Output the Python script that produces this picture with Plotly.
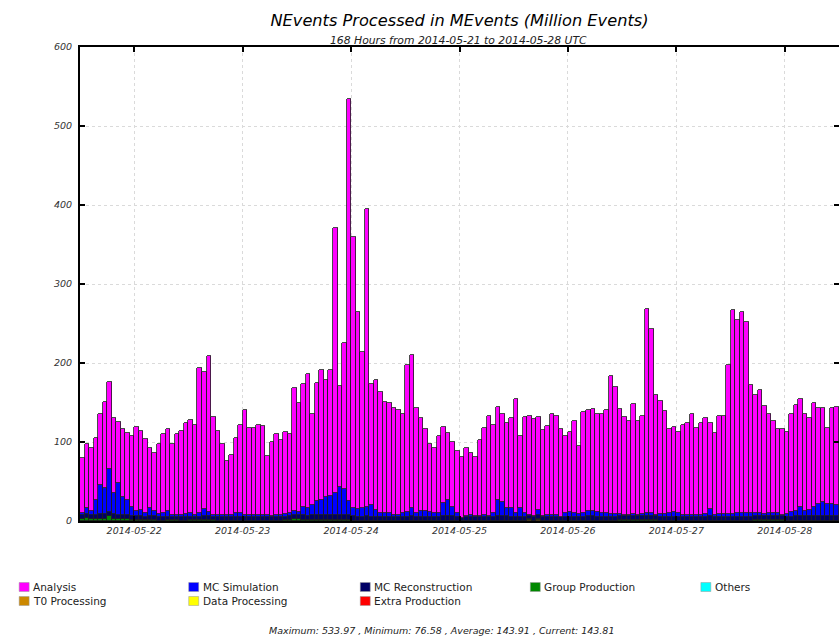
import pandas as pd
import plotly.graph_objects as go

# ---- data: hourly processed events (million events), 168 hours ----
start = "2014-05-21 12:00"
hours = pd.date_range(start, periods=168, freq="h") + pd.Timedelta(minutes=30)

total = [
    80, 97, 92, 105, 135, 151, 176, 130, 125, 116,
    111, 107, 119, 114, 104, 92, 86, 97, 110, 116,
    97, 110, 114, 124, 128, 122, 194, 188, 209, 132,
    114, 97, 76.58, 84, 105, 122, 140, 118, 118, 122,
    120, 82, 100, 110, 103, 113, 110, 168, 149, 174,
    186, 136, 175, 191, 178, 191, 371, 171, 225, 533.97,
    359, 264, 214, 395, 174, 179, 163, 151, 150, 143,
    141, 135, 198, 210, 143, 130, 116, 98, 92, 107,
    119, 111, 100, 89, 81, 92, 86, 81, 103, 118,
    133, 122, 144, 136, 124, 130, 155, 108, 132, 133,
    129, 132, 115, 120, 136, 133, 117, 108, 113, 126,
    95, 138, 140, 142, 136, 135, 140, 183, 169, 142,
    132, 126, 148, 127, 133, 268, 243, 160, 152, 139,
    117, 119, 113, 122, 124, 136, 118, 124, 130, 124,
    111, 133, 133, 197, 267, 255, 264, 252, 172, 159,
    166, 146, 136, 126, 116, 116, 113, 136, 147, 155,
    136, 131, 149, 143, 143, 118, 143, 143.81,
]

# top of the MC Simulation layer (everything below Analysis)
lower_top = [
    10, 16, 13, 27, 46, 42, 66, 35, 48, 30,
    27, 18, 13, 14, 10, 16, 13, 9, 10, 13,
    8, 7, 8, 9, 10, 8, 10, 15, 11, 8,
    7, 7, 7, 8, 10, 10, 8, 7, 7, 8,
    8, 7, 6, 8, 8, 9, 10, 13, 11, 18,
    17, 20, 25, 27, 30, 32, 36, 43, 41, 25,
    17, 15, 17, 18, 20, 14, 10, 10, 10, 8,
    7, 10, 11, 17, 10, 13, 13, 11, 10, 10,
    23, 27, 18, 10, 4, 6, 7, 6, 6, 7,
    6, 10, 27, 24, 16, 16, 10, 16, 10, 7,
    6, 14, 6, 8, 7, 7, 5, 10, 11, 10,
    9, 10, 13, 13, 12, 10, 10, 9, 9, 9,
    8, 8, 9, 8, 9, 10, 10, 8, 9, 9,
    10, 11, 10, 7, 8, 8, 8, 8, 9, 15,
    8, 9, 9, 9, 9, 10, 10, 10, 10, 10,
    10, 9, 10, 10, 10, 8, 9, 11, 13, 18,
    13, 14, 18, 22, 24, 21, 21, 20,
]

mc_reconstruction = [
    5, 5.5, 5, 5, 6, 6, 6, 5.5, 5, 5,
    5, 4.5, 5, 5, 4.5, 5, 5, 4, 4, 4.5,
    4, 4, 4.5, 4, 4, 4, 4.5, 5, 5, 4,
    4, 4, 4, 4, 4.5, 5, 4, 4, 4, 4,
    4, 4, 4, 4, 4, 4.5, 5, 5, 5, 5.5,
    5, 6, 6, 6, 6.5, 6, 6, 6.5, 6, 6,
    5.5, 5, 5, 5.5, 5, 5, 5, 5, 5, 4.5,
    4.5, 5, 5, 5.5, 5, 5, 5, 5, 5, 5,
    5.5, 6, 5.5, 5, 3, 4, 4, 4, 4, 4,
    4, 5, 6, 6, 5.5, 5, 5, 5, 5, 4,
    4, 5, 4, 5, 5, 5, 4, 5, 5, 5,
    5, 5, 5.5, 5.5, 5, 5, 5, 5, 5, 5,
    5, 5, 5, 5, 5, 5, 5, 5, 5, 5,
    5, 5, 5, 4.5, 5, 5, 5, 5, 5, 6,
    5, 5, 5, 5, 5, 5, 5, 5, 5, 5,
    5, 5, 5, 5, 5, 5, 5, 5, 5.5, 6,
    5.5, 5.5, 6, 6, 6, 6, 6, 6,
]

group_production = [
    3, 3.5, 3, 2.5, 3, 3, 6, 3, 2.5, 2,
    2, 1.5, 1, 1, 1, 1, 1, 0.5, 0.5, 1,
    1, 1, 0.5, 0.5, 1, 1, 1, 1, 1.5, 1,
    0.5, 0.5, 0.5, 0.5, 0.5, 0.5, 0.5, 0.5, 0.5, 0.5,
    0.5, 0.5, 0.5, 0.5, 0.5, 1, 1.5, 2, 2, 1.5,
    1.5, 1, 1, 1, 1, 1, 1, 1, 1, 1,
    0.5, 0.5, 0.5, 0.5, 0.5, 0.5, 0.5, 0.5, 0.5, 0.5,
    0.5, 0.5, 0.5, 0.5, 0.5, 0.5, 0.5, 0.5, 0.5, 0.5,
    0.5, 0.5, 0.5, 0.5, 0.5, 0.5, 0.5, 0.5, 0.5, 0.5,
    0.5, 0.5, 0.5, 0.5, 0.5, 0.5, 0.5, 0.5, 0.5, 0.5,
    0.5, 0.5, 0.5, 0.5, 0.5, 0.5, 0.5, 0.5, 0.5, 0.5,
    0.5, 0.5, 0.5, 0.5, 0.5, 0.5, 0.5, 0.5, 0.5, 1,
    1, 1, 1.5, 1, 1, 1, 1, 1, 0.5, 0.5,
    0.5, 0.5, 0.5, 0.5, 0.5, 0.5, 0.5, 0.5, 0.5, 0.5,
    0.5, 0.5, 0.5, 0.5, 0.5, 0.5, 0.5, 0.5, 0.5, 1,
    1, 1, 1, 1, 1, 1, 0.5, 0.5, 0.5, 0.5,
    0.5, 0.5, 0.5, 0.5, 0.5, 0.5, 0.5, 0.5,
]

t0_hours = [100, 102]          # 1-based hour index with T0 Processing
t0_values = [1.5, 1.5]

series_names = ["Analysis", "MC Simulation", "MC Reconstruction", "Group Production",
                "Others", "T0 Processing", "Data Processing", "Extra Production"]
series_colors = ["#FF00FF", "#0000FF", "#000066", "#008800",
                 "#00FFFF", "#CC8800", "#FFFF00", "#FF0000"]
date_ticks = ["2014-05-22", "2014-05-23", "2014-05-24", "2014-05-25",
              "2014-05-26", "2014-05-27", "2014-05-28"]
stats_text = "Maximum: 533.97 , Minimum: 76.58 , Average: 143.91 , Current: 143.81"

# ---- derived stack layers ----
t0 = [0.0] * len(total)
for h, v in zip(t0_hours, t0_values):
    t0[h - 1] = v
mc_simulation = [max(lt - r - g - t, 0.5)
                 for lt, r, g, t in zip(lower_top, mc_reconstruction, group_production, t0)]
analysis = [tot - s - r - g - t for tot, s, r, g, t in
            zip(total, mc_simulation, mc_reconstruction, group_production, t0)]

color = dict(zip(series_names, series_colors))

# ---- geometry helpers (pixels -> paper) ----
W, H = 845, 637
L, R, T, B = 80, 4, 47, 116
PW, PH = W - L - R, H - T - B


def px_x(px):
    return (px - L) / PW


def px_y(py):
    return (H - B - py) / PH


fig = go.Figure()
edge = dict(color="#1e1e1e", width=0.8)
for name, vals in [("T0 Processing", t0),
                   ("Group Production", group_production),
                   ("MC Reconstruction", mc_reconstruction),
                   ("MC Simulation", mc_simulation),
                   ("Analysis", analysis)]:
    fig.add_trace(go.Bar(
        x=hours, y=vals, name=name, width=3600 * 1000,
        marker=dict(color=color[name], line=edge),
        showlegend=False,
    ))

axis_font = dict(family="DejaVu Sans", size=9.5, style="italic", color="#333")
grid = dict(showgrid=True, gridcolor="#dadada", griddash="dot", gridwidth=1)
fig.update_layout(
    width=W, height=H,
    margin=dict(l=L, r=R, t=T, b=B, pad=0),
    barmode="stack", bargap=0,
    paper_bgcolor="white", plot_bgcolor="white",
    font=dict(family="DejaVu Sans", color="#222"),
    title=dict(text="NEvents Processed in MEvents (Million Events)",
               font=dict(family="DejaVu Sans", size=16.2, style="italic", color="#000"),
               x=0.5, xref="paper", xanchor="center",
               y=1 - 20 / H, yref="container", yanchor="middle"),
    xaxis=dict(
        type="date",
        range=[pd.Timestamp(start), pd.Timestamp(start) + pd.Timedelta(hours=168)],
        tickvals=date_ticks, ticktext=date_ticks,
        ticks="inside", ticklen=5, tickwidth=2, tickcolor="black",
        showline=True, linecolor="black", linewidth=2, mirror="ticks",
        tickfont=axis_font, zeroline=False, **grid,
    ),
    yaxis=dict(
        range=[0, 600], dtick=100,
        ticks="inside", ticklen=5, tickwidth=2, tickcolor="black",
        showline=True, linecolor="black", linewidth=2, mirror="ticks",
        tickfont=axis_font, zeroline=False, ticklabelstandoff=4, **grid,
    ),
)

# subtitle and summary line
fig.add_annotation(text="168 Hours from 2014-05-21 to 2014-05-28 UTC",
                   x=px_x(459.5), y=px_y(40), xref="paper", yref="paper",
                   xanchor="center", yanchor="middle", showarrow=False,
                   font=dict(family="DejaVu Sans", size=10.8, style="italic", color="#222"))
fig.add_annotation(text=stats_text,
                   x=px_x(442), y=px_y(630), xref="paper", yref="paper",
                   xanchor="center", yanchor="middle", showarrow=False,
                   font=dict(family="DejaVu Sans", size=9.5, style="italic", color="#222"))

# legend block: 5 columns x 2 rows
col_px = [19, 189, 361, 531.5, 702.5]
row_px = [587, 601]
for i, name in enumerate(series_names):
    r, c = (0, i) if i < 5 else (1, i - 5)
    x0, yc = col_px[c], row_px[r]
    fig.add_shape(type="rect", xref="paper", yref="paper",
                  x0=px_x(x0), x1=px_x(x0 + 10), y0=px_y(yc - 4.5), y1=px_y(yc + 4.5),
                  fillcolor=color[name], line=dict(color="#999", width=0.5))
    fig.add_annotation(text=name, x=px_x(x0 + 12), y=px_y(yc), xref="paper", yref="paper",
                       xanchor="left", yanchor="middle", showarrow=False,
                       font=dict(family="DejaVu Sans", size=10.5, color="#222"))

fig.write_html("out.html", config={"displayModeBar": False},
               post_script="document.documentElement.style.overflow='hidden';"
                           "document.body.style.overflow='hidden';"
                           "document.body.style.margin='0';")
